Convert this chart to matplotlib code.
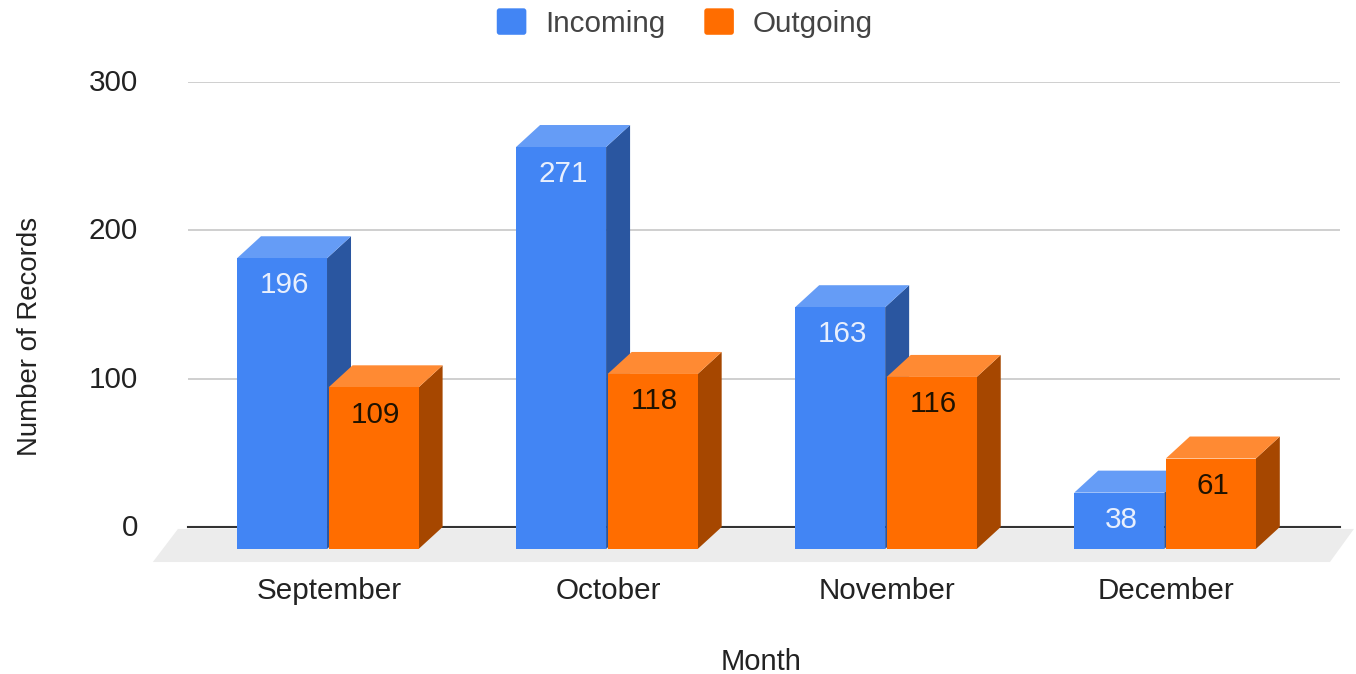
import matplotlib

matplotlib.use("Agg")
import matplotlib.pyplot as plt
from matplotlib.legend_handler import HandlerPatch
from matplotlib.patches import FancyBboxPatch, Patch, Polygon
from matplotlib.transforms import ScaledTranslation

months = ["September", "October", "November", "December"]
incoming = [196, 271, 163, 38]
outgoing = [109, 118, 116, 61]
y_ticks = [0, 100, 200, 300]

W, H = 1356, 674
plt.rcParams["font.family"] = ["Liberation Sans", "DejaVu Sans"]
plt.rcParams["font.size"] = 21.3

fig = plt.figure(figsize=(W / 100, H / 100), dpi=100)
# axes box in pixels: y=0 at 527, y=300 at 82
ax = fig.add_axes([188 / W, 1 - 527 / H, (1340 - 188) / W, (527 - 82) / H])
ax.set_ylim(0, 300)
ax.set_xlim(-0.501, 3.627)
for s in ax.spines.values():
    s.set_visible(False)

# fake 3d depth, expressed in data units
px_x = 1 / 279.1
px_y = 300 / 445
depth_x = 24 * px_x
depth_y = 22 * px_y
bar_w = 90 * px_x
gap = 0.8 * px_x


def add_poly(points, color, z):
    ax.add_patch(Polygon(points, closed=True, fc=color, ec="none", zorder=z, clip_on=False))


def draw_bar(left, value, front, top, side, label_color, z):
    right = left + bar_w
    y0 = -depth_y
    y1 = value - depth_y
    add_poly([(right, y0), (right + depth_x, 0), (right + depth_x, value), (right, y1)], side, z)
    add_poly([(left, y1), (left + depth_x, value), (right + depth_x, value), (right, y1)], top, z)
    add_poly([(left, y0), (right, y0), (right, y1), (left, y1)], front, z)
    ax.annotate(
        str(value),
        xy=(left + bar_w / 2, y1),
        xytext=(1.4, -19.6),
        textcoords="offset points",
        ha="center",
        va="center",
        color=label_color,
        zorder=z + 0.5,
        annotation_clip=False,
    )


# floor
add_poly(
    [(-0.627, -23.6), (3.591, -23.6), (3.677, -1.3), (-0.537, -1.3)],
    "#ececec",
    1,
)

ax.set_yticks(y_ticks)
ax.grid(axis="y", color="#cccccc", lw=1.3, zorder=0)
ax.set_axisbelow(True)
ax.axhline(0, color="#333333", lw=1.5, zorder=2, clip_on=False)

for i, month in enumerate(months):
    z = 3 + i
    draw_bar(i - gap - bar_w, incoming[i], "#4285f4", "#659cf6", "#2a56a0", "#e8effd", z)
    draw_bar(i + gap, outgoing[i], "#ff6d00", "#ff8a33", "#a64700", "#1f1200", z + 0.1)

ax.set_xticks(range(len(months)), months)
ax.tick_params(axis="x", length=0, pad=36.3, colors="#222222")
ax.tick_params(axis="y", length=0, pad=36, colors="#222222")
for lab in ax.get_yticklabels():
    lab.set_transform(lab.get_transform() + ScaledTranslation(0, 2 / 100, fig.dpi_scale_trans))
for lab in ax.get_xticklabels():
    lab.set_transform(lab.get_transform() + ScaledTranslation(1 / 100, 0, fig.dpi_scale_trans))

ax.set_xlabel("Month", color="#222222", fontsize=21)
ax.xaxis.set_label_coords(761 / W, 1 - 661.5 / H, transform=fig.transFigure)
ax.xaxis.label.set_verticalalignment("center")
ax.set_ylabel("Number of Records", color="#222222", fontsize=19.9)
ax.yaxis.set_label_coords(30 / W, 1 - 336 / H, transform=fig.transFigure)
ax.yaxis.label.set_verticalalignment("center")


class RoundSwatch(HandlerPatch):
    def create_artists(self, legend, orig, xd, yd, width, height, fontsize, trans):
        p = FancyBboxPatch(
            (-xd + 2, -yd + 2),
            width - 4,
            height - 4,
            boxstyle="round,pad=2",
            fc=orig.get_facecolor(),
            ec="none",
            transform=trans,
        )
        return [p]


handles = [Patch(color="#4285f4", label="Incoming"), Patch(color="#ff6d00", label="Outgoing")]
fig.legend(
    handles=handles,
    loc="center",
    bbox_to_anchor=(685 / W, 1 - 23 / H),
    ncol=2,
    frameon=False,
    borderpad=0,
    borderaxespad=0,
    handlelength=1,
    handleheight=1,
    handletextpad=0.65,
    columnspacing=1.3,
    labelcolor="#444444",
    handler_map={Patch: RoundSwatch()},
)

fig.savefig("out.png", dpi=100)
plt.close(fig)
